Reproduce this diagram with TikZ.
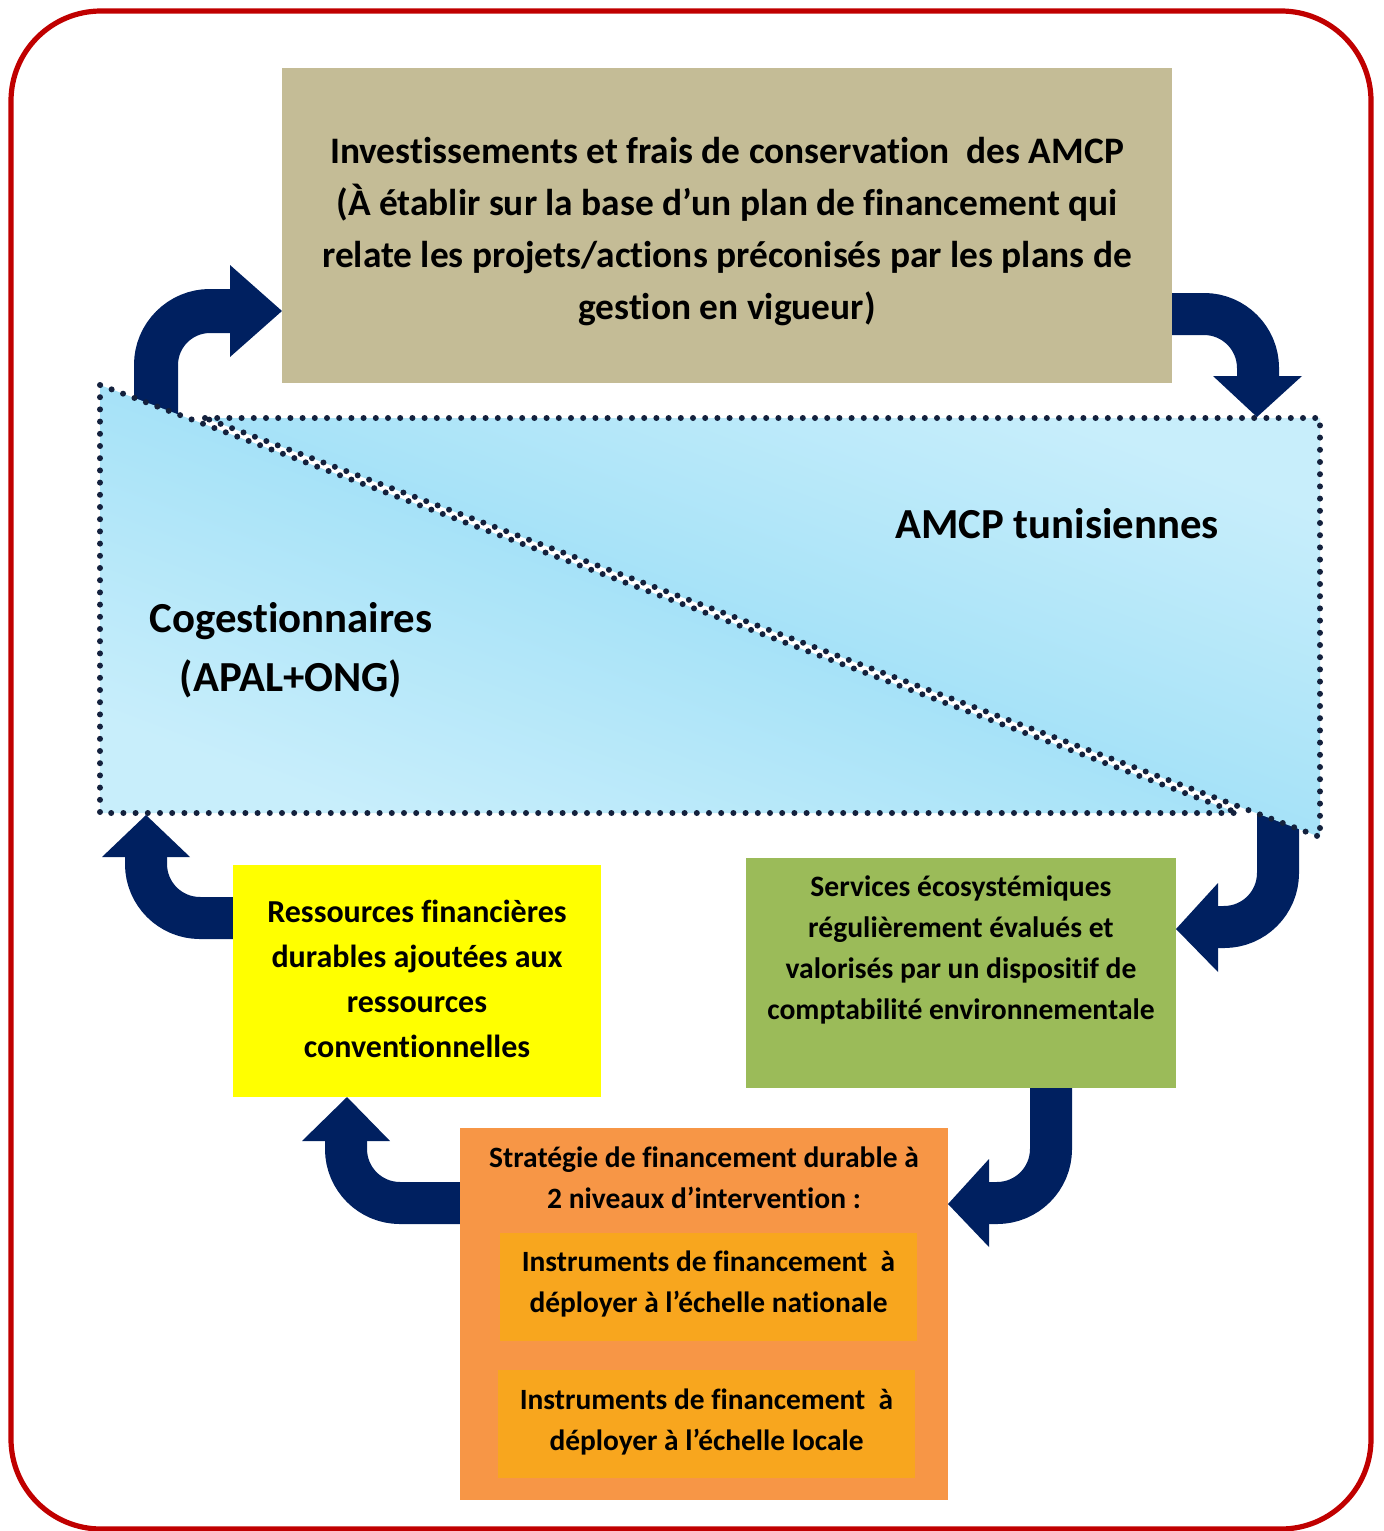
\documentclass[tikz,border=0pt]{standalone}
\usepackage{fontspec}
\setmainfont{Carlito}[Ligatures=NoCommon]
\definecolor{navy}{HTML}{002060}
\definecolor{frame}{HTML}{C00000}
\definecolor{tan}{HTML}{C4BC96}
\definecolor{grn}{HTML}{9BBB59}
\definecolor{ylw}{HTML}{FFFF00}
\definecolor{org}{HTML}{F79646}
\definecolor{gold}{HTML}{F8A61E}
\definecolor{bandlight}{HTML}{C8EEFB}
\definecolor{banddark}{HTML}{84D6F4}
\definecolor{dotc}{HTML}{14213D}
\begin{document}
\begin{tikzpicture}[x=0.5pt,y=-0.5pt,
  shaft/.style={draw=navy, line width=#1, rounded corners=27pt},
  shaft/.default=22pt,
  arrowhead/.style={fill=navy},
  box/.style={inner sep=0pt, align=center, font=\bfseries},
  dotline/.style={draw=dotc, line width=3pt, line cap=round, dash pattern=on 0pt off 6.1pt},
  bandtext/.style={font=\fontsize{21.4pt}{29.5pt}\selectfont\bfseries, align=center}]
\useasboundingbox (0,0) rectangle (1383,1531);
% frame
\draw[frame, line width=2.6pt, rounded corners=45pt] (11,11) rectangle (1371,1529);

% arrow endpoints
\coordinate (a1s) at (156,420); \coordinate (a1e) at (236,311);
\coordinate (a2s) at (1165,314); \coordinate (a2e) at (1258,381);
\coordinate (a3s) at (1278,815); \coordinate (a3e) at (1213,927);
\coordinate (a4s) at (240,918); \coordinate (a4e) at (146,852);
\coordinate (a5s) at (465,1203); \coordinate (a5e) at (346,1136);
\coordinate (a6s) at (1051,1085); \coordinate (a6e) at (984,1203);

% arrows behind the band
\draw[shaft=22pt] (a1s) |- (a1e);
\fill[arrowhead] (230,265) -- (282,311) -- (230,357) -- cycle;
\draw[shaft=21pt] (a3s) |- (a3e);
\fill[arrowhead] (1218,883) -- (1176,929) -- (1218,972) -- cycle;

% band: two triangles
\shade[top color=banddark, bottom color=bandlight, shading angle=-20.6]
  (100,385) -- (100,813) -- (1238,813) -- cycle;
\shade[bottom color=banddark, top color=bandlight, shading angle=-20.6]
  (205,418) -- (1320,418) -- (1320,837) -- cycle;
\draw[dotline] (100,385) -- (100,813) -- (1238,813) -- cycle;
\draw[dotline] (205,418) -- (1320,418) -- (1320,837) -- cycle;

\node[bandtext] (amcp) at (1057,524) {AMCP tunisiennes};
\node[bandtext] (coge) at (291,650) {Cogestionnaires\\(APAL+ONG)};

% other arrows
\draw[shaft=21pt] (a2s) -| (a2e);
\fill[arrowhead] (1213,376) -- (1257,417) -- (1302,376) -- cycle;
\draw[shaft=21pt] (a4s) -| (a4e);
\fill[arrowhead] (102,857) -- (146,815) -- (190,857) -- cycle;
\draw[shaft=21pt] (a5s) -| (a5e);
\fill[arrowhead] (302,1141) -- (347,1097) -- (390,1141) -- cycle;
\draw[shaft=21pt] (a6s) |- (a6e);
\fill[arrowhead] (989,1159) -- (948,1204) -- (989,1247) -- cycle;

% boxes
\node[box, fill=tan, minimum width=445pt, minimum height=157.5pt] (top) at (727,225.5) {};
\node[box, font=\fontsize{18.7pt}{26pt}\selectfont\bfseries] (topt) at (727,232)
  {Investissements et frais de conservation\ \ des AMCP\\(À établir sur la base d’un plan de financement qui\\relate les projets/actions préconisés par les plans de\\gestion en vigueur)};
\node[box, fill=grn, minimum width=215pt, minimum height=115pt] (green) at (961,973) {};
\node[box, font=\fontsize{14.8pt}{20.5pt}\selectfont\bfseries] (greent) at (961,950)
  {Services écosystémiques\\régulièrement évalués et\\valorisés par un dispositif de\\comptabilité environnementale};
\node[box, fill=ylw, minimum width=184pt, minimum height=116pt] (yellow) at (417,981) {};
\node[box, font=\fontsize{16pt}{22.5pt}\selectfont\bfseries] (yellowt) at (417,979)
  {Ressources financières\\durables ajoutées aux\\ressources\\conventionnelles};
\node[box, fill=org, minimum width=244pt, minimum height=186pt] (orange) at (704,1314) {};
\node[box, font=\fontsize{14.75pt}{20.5pt}\selectfont\bfseries] (oranget) at (704,1177.5)
  {Stratégie de financement durable à\\2 niveaux d’intervention :};
\node[box, fill=gold, minimum width=208.5pt, minimum height=54pt] (inner1) at (708.5,1287) {};
\node[box, font=\fontsize{14.7pt}{20.5pt}\selectfont\bfseries] (inner1t) at (708.5,1284)
  {Instruments de financement\ \ à\\déployer à l’échelle nationale};
\node[box, fill=gold, minimum width=208.5pt, minimum height=54pt] (inner2) at (706.5,1424) {};
\node[box, font=\fontsize{14.7pt}{20.5pt}\selectfont\bfseries] (inner2t) at (706.5,1422)
  {Instruments de financement\ \ à\\déployer à l’échelle locale};
\end{tikzpicture}
\end{document}
